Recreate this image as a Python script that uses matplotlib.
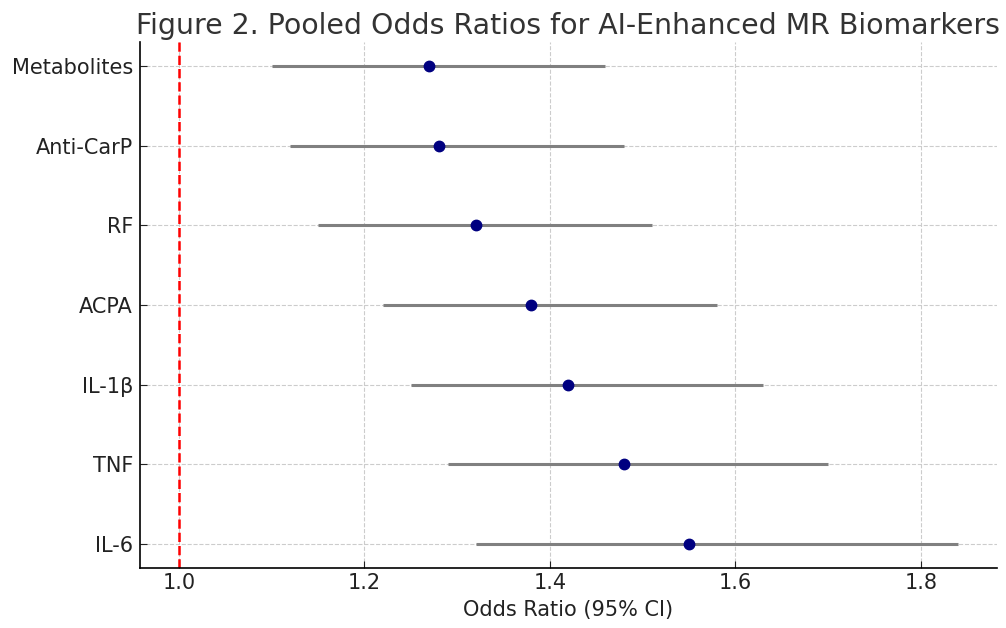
import matplotlib
matplotlib.use('Agg')
import matplotlib.pyplot as plt

biomarkers = ['IL-6', 'TNF', 'IL-1β', 'ACPA', 'RF', 'Anti-CarP', 'Metabolites']
odds_ratio = [1.55, 1.48, 1.42, 1.38, 1.32, 1.28, 1.27]
ci_low = [1.32, 1.29, 1.25, 1.22, 1.15, 1.12, 1.10]
ci_high = [1.84, 1.70, 1.63, 1.58, 1.51, 1.48, 1.46]

fig = plt.figure(figsize=(10.06, 6.28), dpi=100)
ax = fig.add_axes([0.139, 0.0955, 0.852, 0.8375])

ypos = list(range(len(biomarkers)))
err_lo = [o - l for o, l in zip(odds_ratio, ci_low)]
err_hi = [h - o for o, h in zip(odds_ratio, ci_high)]

ax.errorbar(odds_ratio, ypos, xerr=[err_lo, err_hi], fmt='o',
            color='navy', ecolor='gray', elinewidth=2.2, capsize=0,
            markersize=7.5, zorder=3)
ax.axvline(1.0, color='red', linestyle='--', linewidth=1.8, zorder=2)

ax.set_yticks(ypos)
ax.set_yticklabels(biomarkers)
ax.set_xticks([1.0, 1.2, 1.4, 1.6, 1.8])
ax.tick_params(direction='in', labelsize=15, colors='#222222', length=5)
ax.tick_params(axis='y', pad=5)
ax.set_xlabel('Odds Ratio (95% CI)', fontsize=15, color='#222222', labelpad=5)
ax.set_title('Figure 2. Pooled Odds Ratios for AI-Enhanced MR Biomarkers',
             fontsize=20.4, color='#333333', pad=6)
ax.grid(True, linestyle='--', color='#cccccc', linewidth=0.8, zorder=0)
ax.set_axisbelow(True)
ax.spines['top'].set_visible(False)
ax.spines['right'].set_visible(False)
ax.spines['left'].set_linewidth(1.2)
ax.spines['bottom'].set_linewidth(1.2)

fig.savefig('out.png', dpi=100)
